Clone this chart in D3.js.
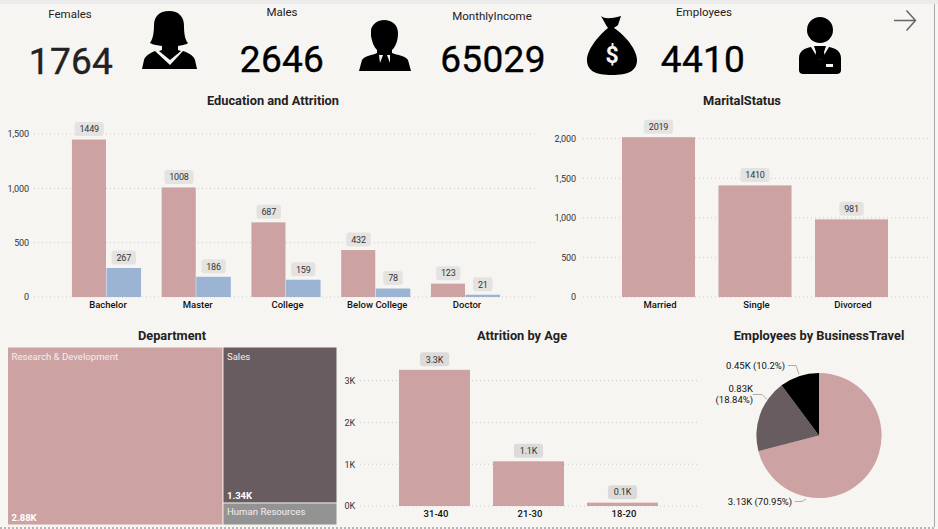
<!DOCTYPE html>
<html><head><meta charset="utf-8">
<script src="https://cdnjs.cloudflare.com/ajax/libs/d3/7.8.5/d3.min.js"></script>
<style>
html,body{margin:0;padding:0;background:#f7f5f2;overflow:hidden}
svg{display:block}
text{font-family:Roboto,"Noto Sans",sans-serif}
</style></head><body><svg id="c" width="938" height="529"></svg>
<script>
// ---- data ----
const educationCategories=["Bachelor","Master","College","Below College","Doctor"];
const educationNo=[1449,1008,687,432,123];
const educationYes=[267,186,159,78,21];
const educationTicks=[0,500,1000,1500];
const maritalCategories=["Married","Single","Divorced"];
const maritalValues=[2019,1410,981];
const maritalTicks=[0,500,1000,1500,2000];
const ageCategories=["31-40","21-30","18-20"];
const ageValues=[3260,1070,80];
const ageTicks=[0,1000,2000,3000];
const departmentNames=["Research & Development","Sales","Human Resources"];
const departmentValues=[2883,1337,189];
const departmentLabels=["2.88K","1.34K",""];
const travelValues=[3130,830,450];
const travelLabels=[["3.13K (70.95%)"],["0.83K","(18.84%)"],["0.45K (10.2%)"]];
const kpiTitles=["Females","Males","MonthlyIncome","Employees"];
const kpiValues=["1764","2646","65029","4410"];

const PINK="#cda2a2",DARK="#685c60",BLUE="#9bb4d4",GREY="#939393",BG="#f7f5f2";
const svg=d3.select("#c");

// frame
svg.append("rect").attr("width",938).attr("height",4).attr("fill","#ececec");
svg.append("line").attr("x1",934.5).attr("x2",934.5).attr("y1",4).attr("y2",527).attr("stroke","#a8a8a8");
svg.append("line").attr("x1",0).attr("x2",934).attr("y1",528).attr("y2",528).attr("stroke","#777").attr("stroke-dasharray","2 2");

function title(t,x,y){svg.append("text").attr("x",x).attr("y",y).attr("text-anchor","middle").attr("font-size",12.8).attr("font-weight",700).attr("fill","#222").text(t);}

function pill(g,cx,bottom,label,fill){
  const w=label.length*4.8+10,h=14;
  g.append("rect").attr("x",cx-w/2).attr("y",bottom-h).attr("width",w).attr("height",h).attr("rx",3).attr("fill",fill);
  g.append("text").attr("x",cx).attr("y",bottom-3.7).attr("text-anchor","middle").attr("font-size",9).attr("letter-spacing",-.2).attr("fill","#333").text(label);
}

function yAxis(y,ticks,fmt,x0,x1,labelX){
  const g=svg.append("g").attr("transform",`translate(${labelX},0)`)
    .call(d3.axisLeft(y).tickValues(ticks).tickFormat(fmt).tickSize(0).tickPadding(0));
  g.select(".domain").remove();
  g.selectAll("text").attr("font-size",9).attr("letter-spacing",-.1).attr("fill","#333").style("font-family","Roboto");
  svg.append("g").selectAll("line").data(ticks).join("line")
    .attr("x1",x0).attr("x2",x1).attr("y1",d=>y(d)).attr("y2",d=>y(d))
    .attr("stroke","#ccc").attr("stroke-dasharray","1 3");
}
function xAxis(x,yPos){
  const g=svg.append("g").attr("transform",`translate(1.5,${yPos})`)
    .call(d3.axisBottom(x).tickSize(0).tickPadding(4.5));
  g.select(".domain").remove();
  g.selectAll("text").attr("font-size",9.5).attr("font-weight",500).attr("fill","#111").style("font-family","Roboto");
}

// ---- Education ----
title("Education and Attrition",273,105);
{
  const y=d3.scaleLinear().domain([0,1500]).range([297,134]);
  const x=d3.scaleBand().domain(educationCategories).range([61.6,510.4]).paddingInner(.23).paddingOuter(.115);
  yAxis(y,educationTicks,d3.format(","),34,535,29);
  const x1=d3.scaleBand().domain([0,1]).range([0,x.bandwidth()]);
  const g=svg.append("g");
  [educationNo,educationYes].forEach((vals,s)=>{
    g.selectAll(null).data(educationCategories).join("rect")
      .attr("x",d=>x(d)+x1(s)).attr("width",x1.bandwidth()-(s?0:.5))
      .attr("y",(d,i)=>y(vals[i])).attr("height",(d,i)=>y(0)-y(vals[i]))
      .attr("fill",s?BLUE:PINK);
    educationCategories.forEach((c,i)=>pill(g,x(c)+x1(s)+x1.bandwidth()/2,y(vals[i])-3.5,String(vals[i]),"#e4e3e1"));
  });
  xAxis(x,297);
}

// ---- Marital ----
title("MaritalStatus",742,105);
{
  const y=d3.scaleLinear().domain([0,2000]).range([297,138.7]);
  const x=d3.scaleBand().domain(maritalCategories).range([610.25,899.75]).paddingInner(.243).paddingOuter(.1215);
  yAxis(y,maritalTicks,d3.format(","),583,930,576);
  const g=svg.append("g");
  g.selectAll(null).data(maritalCategories).join("rect")
    .attr("x",d=>x(d)).attr("width",x.bandwidth())
    .attr("y",(d,i)=>y(maritalValues[i])).attr("height",(d,i)=>y(0)-y(maritalValues[i])).attr("fill",PINK);
  maritalCategories.forEach((c,i)=>pill(g,x(c)+x.bandwidth()/2,y(maritalValues[i])-3.5,String(maritalValues[i]),"#e4e3e1"));
  xAxis(x,297);
}

// ---- Department treemap ----
title("Department",172,340);
{
  const root=d3.hierarchy({children:departmentNames.map((n,i)=>({n,v:departmentValues[i],l:departmentLabels[i]}))}).sum(d=>d.v||0);
  d3.treemap().tile(d3.treemapBinary).size([328.5,177]).paddingInner(1)(root);
  const fills=[PINK,DARK,GREY];
  const g=svg.append("g").attr("transform","translate(8,347.5)");
  root.leaves().forEach(l=>{
    const i=departmentNames.indexOf(l.data.n);
    g.append("rect").attr("x",l.x0).attr("y",l.y0).attr("width",l.x1-l.x0).attr("height",l.y1-l.y0).attr("fill",fills[i]);
    g.append("text").attr("x",l.x0+3.5).attr("y",l.y0+12).attr("font-size",9.6).attr("fill","#f4eeee").text(l.data.n);
    if(l.data.l) g.append("text").attr("x",l.x0+3.5).attr("y",l.y1-3.5).attr("font-size",9.5).attr("font-weight",700).attr("fill","#fff").text(l.data.l);
  });
}

// ---- Age ----
title("Attrition by Age",522,340);
{
  const y=d3.scaleLinear().domain([0,3000]).range([506,380.7]);
  const x=d3.scaleBand().domain(ageCategories).range([387.5,669.5]).paddingInner(.245).paddingOuter(.1225);
  yAxis(y,ageTicks,d=>d/1000+"K",360,698,355);
  const g=svg.append("g");
  g.selectAll(null).data(ageCategories).join("rect")
    .attr("x",d=>x(d)).attr("width",x.bandwidth())
    .attr("y",(d,i)=>y(ageValues[i])).attr("height",(d,i)=>y(0)-y(ageValues[i])).attr("fill",PINK);
  ageCategories.forEach((c,i)=>pill(g,x(c)+x.bandwidth()/2,y(ageValues[i])-3.5,(ageValues[i]/1000).toFixed(1)+"K","#dcdbd9"));
  xAxis(x,506);
}

// ---- Pie ----
title("Employees by BusinessTravel",819,340);
{
  const cx=819,cy=435.5,r=62.6;
  const arcs=d3.pie().sort(null)(travelValues);
  const arc=d3.arc().innerRadius(0).outerRadius(r);
  const fills=[PINK,DARK,"#000"];
  const g=svg.append("g").attr("transform",`translate(${cx},${cy})`);
  g.selectAll("path").data(arcs).join("path").attr("d",arc).attr("fill",(d,i)=>fills[i]);
  const lines=[[[-13,63.5],[-17,66],[-24,66]],[[-52,-36],[-57,-41],[-66,-41]],[[-20,-61],[-23,-70],[-31,-70]]];
  const anchors=[[-27,69.5],[-66,-44],[-34,-66.5]];
  lines.forEach((p,i)=>{
    g.append("path").attr("d",d3.line()(p)).attr("fill","none").attr("stroke","#999").attr("stroke-width",.8);
    travelLabels[i].forEach((t,k)=>{
      g.append("text").attr("x",anchors[i][0]).attr("y",anchors[i][1]+k*11.5)
       .attr("text-anchor","end").attr("font-size",9.5).attr("fill","#111").text(t);
    });
  });
}

// ---- KPI row ----
const kpiTitleX=[70,282,492,704];
const kpiTitleYs=[18,16,20,16];
const kpiValX=[71,282,493,703],kpiValY=[74,72,72,72];
kpiTitles.forEach((t,i)=>{
  svg.append("text").attr("x",kpiTitleX[i]).attr("y",kpiTitleYs[i]).attr("text-anchor","middle").attr("font-size",11.5).attr("fill","#222").text(t);
  svg.append("text").attr("x",kpiValX[i]).attr("y",kpiValY[i]).attr("text-anchor","middle").attr("font-size",37).attr("stroke",i==0?"#222":"#000").attr("stroke-width",.4).attr("fill",i==0?"#222":"#000").attr("letter-spacing",.3).text(kpiValues[i]);
});

// icons (decoration)
svg.append("path").attr("fill","#000").attr("d",
"M169,11 C179,11 184,17 184,26 C184,33 185,40 188,43 C186,45 181,45 178,46 L178,50 L181,51 L170,60 L159,51 L162,50 L162,46 C158,45 153,45 150,43 C153,39 154,32 154,25 C154,17 159,11 169,11Z M155,51 L170,65 L183,51 C189,53 194,56 195,60 L197,69 L142,69 L144,60 C145,56 150,53 155,51Z");
svg.append("path").attr("fill","#000").attr("d",
"M384,20 C392,20 398,25 398,33 C398,40 396,46 392,50 L392,53 C397,55 406,56 408,60 L411,71 L359,71 L362,60 C364,56 373,55 377,53 L377,50 C374,47 372,42 371,36 L371,30 C372,24 378,20 384,20Z");
svg.append("path").attr("fill",BG).attr("d","M379,55 L383,55 L380,63Z M390,55 L387,55 L390,63Z");
svg.append("path").attr("fill","#000").attr("d",
"M601,16 C605,19 610,19 621,16 L618,25 C616,27 614,27 614,28 C626,36 637,50 637,60 C637,71 628,75 612,75 C596,75 587,71 587,60 C587,50 598,36 608,28 L606,25Z");
svg.append("text").attr("x",612).attr("y",63).attr("text-anchor","middle").attr("font-size",23).attr("font-weight",700).attr("fill",BG).text("$");
svg.append("circle").attr("cx",820).attr("cy",30).attr("r",13).attr("fill","#000");
svg.append("path").attr("fill","#000").attr("d","M814,46 L826,46 L824,52 L825,59 L820,60 L815,59 L816,52Z");
svg.append("path").attr("fill","#000").attr("d",
"M811,47 L819,60 L821,60 L829,47 C835,48 841,51 841,58 L841,70 C841,73 839,74 836,74 L804,74 C801,74 799,73 799,70 L799,58 C799,51 805,48 811,47Z");
svg.append("rect").attr("x",826).attr("y",64).attr("width",7).attr("height",3).attr("fill",BG);
svg.append("path").attr("fill","none").attr("stroke","#666").attr("stroke-width",1.5).attr("d","M894,20.5 H915 M906.5,10.5 L915.5,20.5 L906.5,30.5");
</script></body></html>
